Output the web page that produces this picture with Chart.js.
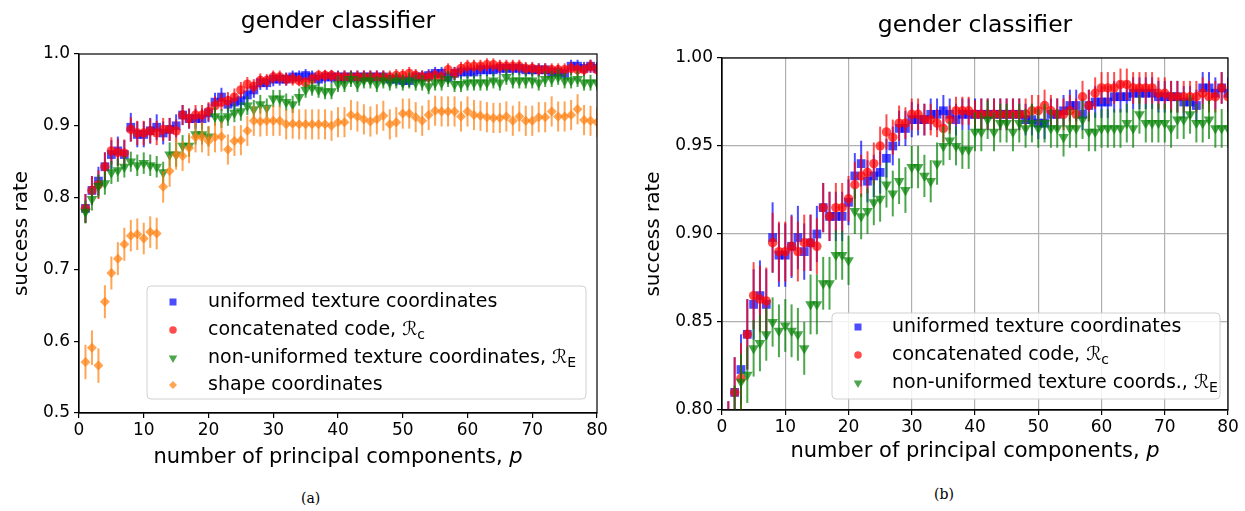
<!DOCTYPE html>
<html>
<head>
<meta charset="utf-8">
<script src="https://cdn.jsdelivr.net/npm/chart.js@4.4.1/dist/chart.umd.min.js"></script>
<style>
  body { margin: 0; background: #fff; width: 1245px; height: 511px; overflow: hidden; position: relative; }
  canvas { position: absolute; top: 0; }
  #chartA { left: 0; }
  #chartB { left: 625px; }
  .cap { position: absolute; font-family: 'DejaVu Serif', serif; font-size: 14px; color: #000; }
</style>
</head>
<body>
<canvas id="chartA" width="620" height="480"></canvas>
<canvas id="chartB" width="620" height="480"></canvas>
<div class="cap" style="left:301px;top:490px">(a)</div>
<div class="cap" style="left:934px;top:486px">(b)</div>
<script>
// number of principal components
const components = [
  1, 2, 3, 4, 5, 6, 7, 8, 9, 10, 11, 12, 13, 14, 15, 16, 17, 18, 19, 20,
  21, 22, 23, 24, 25, 26, 27, 28, 29, 30, 31, 32, 33, 34, 35, 36, 37, 38, 39, 40,
  41, 42, 43, 44, 45, 46, 47, 48, 49, 50, 51, 52, 53, 54, 55, 56, 57, 58, 59, 60,
  61, 62, 63, 64, 65, 66, 67, 68, 69, 70, 71, 72, 73, 74, 75, 76, 77, 78, 79, 80
];

// uniformed texture coordinates
const uniformRate = [
  0.785, 0.810, 0.823, 0.843, 0.860, 0.865, 0.860, 0.898, 0.888, 0.888,
  0.893, 0.898, 0.890, 0.895, 0.900, 0.915, 0.910, 0.910, 0.910, 0.918,
  0.933, 0.940, 0.930, 0.933, 0.935, 0.943, 0.950, 0.960, 0.960, 0.965,
  0.965, 0.965, 0.968, 0.968, 0.970, 0.968, 0.965, 0.968, 0.968, 0.968,
  0.968, 0.968, 0.968, 0.968, 0.968, 0.968, 0.968, 0.965, 0.965, 0.963,
  0.963, 0.968, 0.968, 0.970, 0.973, 0.973, 0.968, 0.973, 0.975, 0.975,
  0.975, 0.978, 0.978, 0.978, 0.980, 0.980, 0.980, 0.980, 0.978, 0.978,
  0.978, 0.978, 0.975, 0.975, 0.973, 0.983, 0.983, 0.980, 0.983, 0.980
];
const uniformErr = [
  0.020, 0.020, 0.020, 0.020, 0.020, 0.020, 0.020, 0.020, 0.018, 0.018,
  0.018, 0.018, 0.016, 0.016, 0.016, 0.014, 0.014, 0.014, 0.014, 0.013,
  0.013, 0.013, 0.012, 0.012, 0.012, 0.011, 0.011, 0.010, 0.010, 0.010,
  0.009, 0.009, 0.009, 0.009, 0.009, 0.009, 0.009, 0.009, 0.009, 0.009,
  0.009, 0.009, 0.009, 0.009, 0.009, 0.009, 0.009, 0.009, 0.009, 0.009,
  0.009, 0.009, 0.009, 0.009, 0.009, 0.009, 0.009, 0.009, 0.009, 0.009,
  0.009, 0.009, 0.009, 0.009, 0.009, 0.009, 0.009, 0.009, 0.009, 0.009,
  0.009, 0.009, 0.009, 0.009, 0.009, 0.009, 0.009, 0.009, 0.009, 0.009
];

// concatenated code
const concatRate = [
  0.785, 0.810, 0.818, 0.843, 0.865, 0.863, 0.862, 0.895, 0.890, 0.890,
  0.893, 0.890, 0.895, 0.895, 0.893, 0.915, 0.910, 0.915, 0.915, 0.920,
  0.928, 0.933, 0.935, 0.940, 0.950, 0.958, 0.955, 0.963, 0.963, 0.968,
  0.968, 0.965, 0.965, 0.963, 0.960, 0.965, 0.970, 0.970, 0.970, 0.968,
  0.968, 0.968, 0.968, 0.968, 0.968, 0.968, 0.968, 0.968, 0.970, 0.970,
  0.973, 0.970, 0.968, 0.968, 0.970, 0.968, 0.978, 0.973, 0.980, 0.983,
  0.983, 0.983, 0.985, 0.985, 0.983, 0.983, 0.983, 0.983, 0.980, 0.980,
  0.978, 0.978, 0.978, 0.978, 0.978, 0.980, 0.978, 0.978, 0.983, 0.978
];
const concatErr = [
  0.020, 0.020, 0.020, 0.020, 0.019, 0.019, 0.019, 0.017, 0.017, 0.017,
  0.017, 0.017, 0.016, 0.016, 0.016, 0.014, 0.014, 0.014, 0.014, 0.013,
  0.013, 0.012, 0.012, 0.012, 0.011, 0.010, 0.010, 0.010, 0.009, 0.009,
  0.009, 0.009, 0.009, 0.008, 0.008, 0.008, 0.008, 0.008, 0.008, 0.008,
  0.009, 0.009, 0.009, 0.009, 0.009, 0.009, 0.009, 0.009, 0.009, 0.009,
  0.009, 0.009, 0.009, 0.009, 0.009, 0.009, 0.009, 0.009, 0.009, 0.009,
  0.009, 0.009, 0.009, 0.009, 0.009, 0.009, 0.009, 0.009, 0.009, 0.009,
  0.009, 0.009, 0.009, 0.009, 0.009, 0.009, 0.009, 0.009, 0.009, 0.009
];

// non-uniformed texture coordinates
const nonUniformRate = [
  0.780, 0.798, 0.816, 0.820, 0.835, 0.838, 0.843, 0.850, 0.845, 0.848,
  0.845, 0.843, 0.835, 0.860, 0.860, 0.872, 0.872, 0.888, 0.888, 0.885,
  0.913, 0.910, 0.913, 0.918, 0.920, 0.928, 0.923, 0.930, 0.925, 0.938,
  0.938, 0.933, 0.930, 0.940, 0.950, 0.953, 0.950, 0.948, 0.948, 0.958,
  0.958, 0.965, 0.958, 0.963, 0.963, 0.958, 0.963, 0.960, 0.963, 0.960,
  0.963, 0.960, 0.960, 0.955, 0.960, 0.960, 0.965, 0.958, 0.958, 0.960,
  0.960, 0.960, 0.960, 0.963, 0.960, 0.968, 0.963, 0.963, 0.963, 0.963,
  0.960, 0.965, 0.965, 0.968, 0.963, 0.963, 0.965, 0.960, 0.960, 0.960
];
const nonUniformErr = [
  0.016, 0.016, 0.016, 0.016, 0.016, 0.016, 0.015, 0.014, 0.015, 0.015,
  0.015, 0.015, 0.015, 0.017, 0.017, 0.015, 0.015, 0.014, 0.014, 0.014,
  0.013, 0.013, 0.013, 0.013, 0.013, 0.013, 0.013, 0.013, 0.013, 0.012,
  0.012, 0.012, 0.012, 0.012, 0.011, 0.011, 0.011, 0.011, 0.011, 0.011,
  0.011, 0.011, 0.011, 0.011, 0.011, 0.011, 0.011, 0.011, 0.011, 0.011,
  0.011, 0.011, 0.011, 0.011, 0.011, 0.011, 0.011, 0.011, 0.011, 0.011,
  0.011, 0.011, 0.011, 0.011, 0.011, 0.011, 0.011, 0.011, 0.011, 0.011,
  0.011, 0.011, 0.011, 0.011, 0.011, 0.011, 0.011, 0.011, 0.011, 0.011
];

// shape coordinates (panel a only)
const shapeRate = [
  0.571, 0.591, 0.566, 0.655, 0.695, 0.715, 0.735, 0.747, 0.749, 0.743,
  0.752, 0.750, 0.815, 0.837, 0.860, 0.858, 0.869, 0.884, 0.884, 0.879,
  0.884, 0.885, 0.867, 0.879, 0.880, 0.893, 0.907, 0.906, 0.907, 0.907,
  0.907, 0.902, 0.903, 0.902, 0.902, 0.902, 0.902, 0.902, 0.900, 0.905,
  0.905, 0.915, 0.913, 0.909, 0.906, 0.909, 0.914, 0.902, 0.905, 0.917,
  0.917, 0.912, 0.907, 0.915, 0.921, 0.920, 0.920, 0.920, 0.913, 0.920,
  0.915, 0.914, 0.912, 0.911, 0.911, 0.913, 0.907, 0.913, 0.907, 0.907,
  0.912, 0.912, 0.920, 0.913, 0.913, 0.915, 0.923, 0.908, 0.907, 0.905
];
const shapeErr = [
  0.024, 0.024, 0.024, 0.023, 0.023, 0.023, 0.023, 0.022, 0.022, 0.022,
  0.022, 0.022, 0.022, 0.022, 0.021, 0.021, 0.021, 0.021, 0.021, 0.021,
  0.021, 0.021, 0.021, 0.021, 0.021, 0.021, 0.021, 0.021, 0.021, 0.021,
  0.021, 0.021, 0.021, 0.021, 0.021, 0.021, 0.021, 0.021, 0.021, 0.021,
  0.021, 0.021, 0.021, 0.021, 0.021, 0.021, 0.021, 0.021, 0.021, 0.021,
  0.021, 0.021, 0.021, 0.021, 0.021, 0.021, 0.021, 0.021, 0.021, 0.021,
  0.021, 0.021, 0.021, 0.021, 0.021, 0.021, 0.021, 0.021, 0.021, 0.021,
  0.021, 0.021, 0.021, 0.021, 0.021, 0.021, 0.021, 0.021, 0.021, 0.021
];

const yTicksA = [0.5, 0.6, 0.7, 0.8, 0.9, 1.0];
const yTicksB = [0.80, 0.85, 0.90, 0.95, 1.00];

const FONT = "'DejaVu Sans', sans-serif";

// estilos de las series (orden de dibujo: azul, rojo, verde, naranja encima)
const seriesStyles = {
  uniform:    { color: 'rgba(0,0,255,0.7)',    style: 'rect',     radius: 6.2, rotation: 0,   order: 4 },
  concat:     { color: 'rgba(255,0,0,0.7)',    style: 'circle',   radius: 4.7, rotation: 0,   order: 3 },
  nonUniform: { color: 'rgba(0,128,0,0.7)',    style: 'triangle', radius: 6.2, rotation: 180, order: 2 },
  shape:      { color: 'rgba(255,127,14,0.7)', style: 'rectRot',  radius: 5.0, rotation: 0,   order: 1 }
};

function makeDataset(key, values, errors) {
  const st = seriesStyles[key];
  return {
    data: components.map((p, i) => ({ x: p, y: values[i] })),
    errors: errors,
    backgroundColor: st.color,
    borderWidth: 0,
    pointStyle: st.style,
    pointRadius: st.radius,
    pointHoverRadius: st.radius,
    pointRotation: st.rotation,
    order: st.order
  };
}

// barras de error, dibujadas justo antes de los marcadores de cada serie
const errorBars = {
  id: 'errorBars',
  beforeDatasetDraw(chart, args) {
    const ds = chart.data.datasets[args.index];
    if (!ds.errors) return;
    const ctx = chart.ctx;
    const yScale = chart.scales.y;
    const area = chart.chartArea;
    ctx.save();
    ctx.beginPath();
    ctx.rect(area.left, area.top, area.right - area.left, area.bottom - area.top);
    ctx.clip();
    ctx.strokeStyle = ds.backgroundColor;
    ctx.lineWidth = 2;
    args.meta.data.forEach((pt, i) => {
      const v = ds.data[i].y, e = ds.errors[i];
      ctx.beginPath();
      ctx.moveTo(pt.x, yScale.getPixelForValue(v - e));
      ctx.lineTo(pt.x, yScale.getPixelForValue(v + e));
      ctx.stroke();
    });
    ctx.restore();
  }
};

function drawRuns(ctx, runs, x, y, align) {
  let total = 0;
  runs.forEach(r => { ctx.font = r.font; total += ctx.measureText(r.text).width; });
  let cx = align === 'center' ? x - total / 2 : x;
  runs.forEach(r => {
    ctx.font = r.font;
    ctx.fillText(r.text, cx, y + (r.dy || 0));
    cx += ctx.measureText(r.text).width;
  });
}

function legendRuns(label, sub) {
  const runs = [{ text: label, font: `19px ${FONT}` }];
  if (sub) {
    runs.push({ text: 'ℛ', font: `19px ${FONT}` });
    runs.push({ text: sub, font: `14px ${FONT}`, dy: 5 });
  }
  return runs;
}

// títulos, etiquetas de ejes, marco y leyenda
function panelDecor(cfg) {
  return {
    id: 'panelDecor',
    afterDraw(chart) {
      const ctx = chart.ctx;
      const a = chart.chartArea;
      ctx.save();
      ctx.strokeStyle = '#000';
      ctx.lineWidth = 1.2;
      ctx.strokeRect(a.left, a.top, a.right - a.left, a.bottom - a.top);

      ctx.fillStyle = '#000';
      ctx.textBaseline = 'middle';
      ctx.textAlign = 'left';
      drawRuns(ctx, [{ text: 'gender classifier', font: `23.5px ${FONT}` }], cfg.titleX, cfg.titleY, 'center');
      drawRuns(ctx, [
        { text: 'number of principal components, ', font: `21px ${FONT}` },
        { text: 'p', font: `italic 21px ${FONT}` }
      ], (a.left + a.right) / 2, cfg.xLabelY, 'center');

      ctx.save();
      ctx.translate(cfg.yLabelX, (a.top + a.bottom) / 2);
      ctx.rotate(-Math.PI / 2);
      drawRuns(ctx, [{ text: 'success rate', font: `20px ${FONT}` }], 0, 0, 'center');
      ctx.restore();

      // leyenda
      const L = cfg.legend;
      ctx.fillStyle = 'rgba(255,255,255,0.85)';
      ctx.strokeStyle = '#d0d0d0';
      ctx.lineWidth = 1;
      ctx.beginPath();
      ctx.roundRect(L.x0, L.y0, L.x1 - L.x0, L.y1 - L.y0, 4);
      ctx.fill();
      ctx.stroke();
      L.items.forEach((item, i) => {
        const st = seriesStyles[item.key];
        const y = L.rows[i];
        ctx.fillStyle = st.color;
        Chart.helpers.drawPoint(ctx, {
          pointStyle: st.style, rotation: st.rotation, radius: st.radius * 0.8, borderWidth: 0
        }, L.markerX, y);
        ctx.fillStyle = '#000';
        ctx.textAlign = 'left';
        drawRuns(ctx, legendRuns(item.label, item.sub), L.textX, y, 'left');
      });
      ctx.restore();
    }
  };
}

function makePanel(id, cfg) {
  return new Chart(document.getElementById(id), {
    type: 'scatter',
    data: { datasets: cfg.datasets },
    options: {
      responsive: false,
      animation: false,
      events: [],
      layout: { padding: { left: 0, right: cfg.padRight, top: cfg.padTop, bottom: 0 } },
      plugins: { legend: { display: false }, tooltip: { enabled: false } },
      scales: {
        x: {
          type: 'linear', min: 0, max: 80,
          ticks: { stepSize: 10, color: '#000', font: { family: FONT, size: 17 }, padding: 2, maxRotation: 0 },
          grid: { drawOnChartArea: cfg.grid, color: '#b0b0b0', tickColor: '#000', tickLength: 5, lineWidth: 1.2 },
          border: { color: '#000', width: 1.2 },
          afterFit: s => { s.height = cfg.xHeight; }
        },
        y: {
          type: 'linear', min: cfg.yTicks[0], max: cfg.yTicks[cfg.yTicks.length - 1],
          afterBuildTicks: s => { s.ticks = cfg.yTicks.map(v => ({ value: v })); },
          ticks: { color: '#000', font: { family: FONT, size: 17 }, padding: 4,
                   callback: v => Number(v).toFixed(cfg.decimals) },
          grid: { drawOnChartArea: cfg.grid, color: '#b0b0b0', tickColor: '#000', tickLength: 5, lineWidth: 1.2 },
          border: { color: '#000', width: 1.2 },
          afterFit: s => { s.width = cfg.yWidth; }
        }
      }
    },
    plugins: [errorBars, panelDecor(cfg)]
  });
}

makePanel('chartA', {
  datasets: [
    makeDataset('uniform', uniformRate, uniformErr),
    makeDataset('concat', concatRate, concatErr),
    makeDataset('nonUniform', nonUniformRate, nonUniformErr),
    makeDataset('shape', shapeRate, shapeErr)
  ],
  yTicks: yTicksA, decimals: 1, grid: false,
  padRight: 23, padTop: 54, yWidth: 79, xHeight: 67,
  titleX: 338, titleY: 22, xLabelY: 458, yLabelX: 22,
  legend: {
    x0: 147, y0: 286, x1: 586, y1: 399, markerX: 173, textX: 208,
    rows: [302, 330, 358, 385],
    items: [
      { key: 'uniform', label: 'uniformed texture coordinates' },
      { key: 'concat', label: 'concatenated code, ', sub: 'c' },
      { key: 'nonUniform', label: 'non-uniformed texture coordinates, ', sub: 'E' },
      { key: 'shape', label: 'shape coordinates' }
    ]
  }
});

makePanel('chartB', {
  datasets: [
    makeDataset('uniform', uniformRate, uniformErr),
    makeDataset('concat', concatRate, concatErr),
    makeDataset('nonUniform', nonUniformRate, nonUniformErr)
  ],
  yTicks: yTicksB, decimals: 2, grid: true,
  padRight: 17, padTop: 58, yWidth: 97, xHeight: 70,
  titleX: 350, titleY: 26, xLabelY: 452, yLabelX: 29,
  legend: {
    x0: 207, y0: 313, x1: 595, y1: 399, markerX: 233, textX: 267,
    rows: [327, 355, 383],
    items: [
      { key: 'uniform', label: 'uniformed texture coordinates' },
      { key: 'concat', label: 'concatenated code, ', sub: 'c' },
      { key: 'nonUniform', label: 'non-uniformed texture coords., ', sub: 'E' }
    ]
  }
});
</script>
</body>
</html>
